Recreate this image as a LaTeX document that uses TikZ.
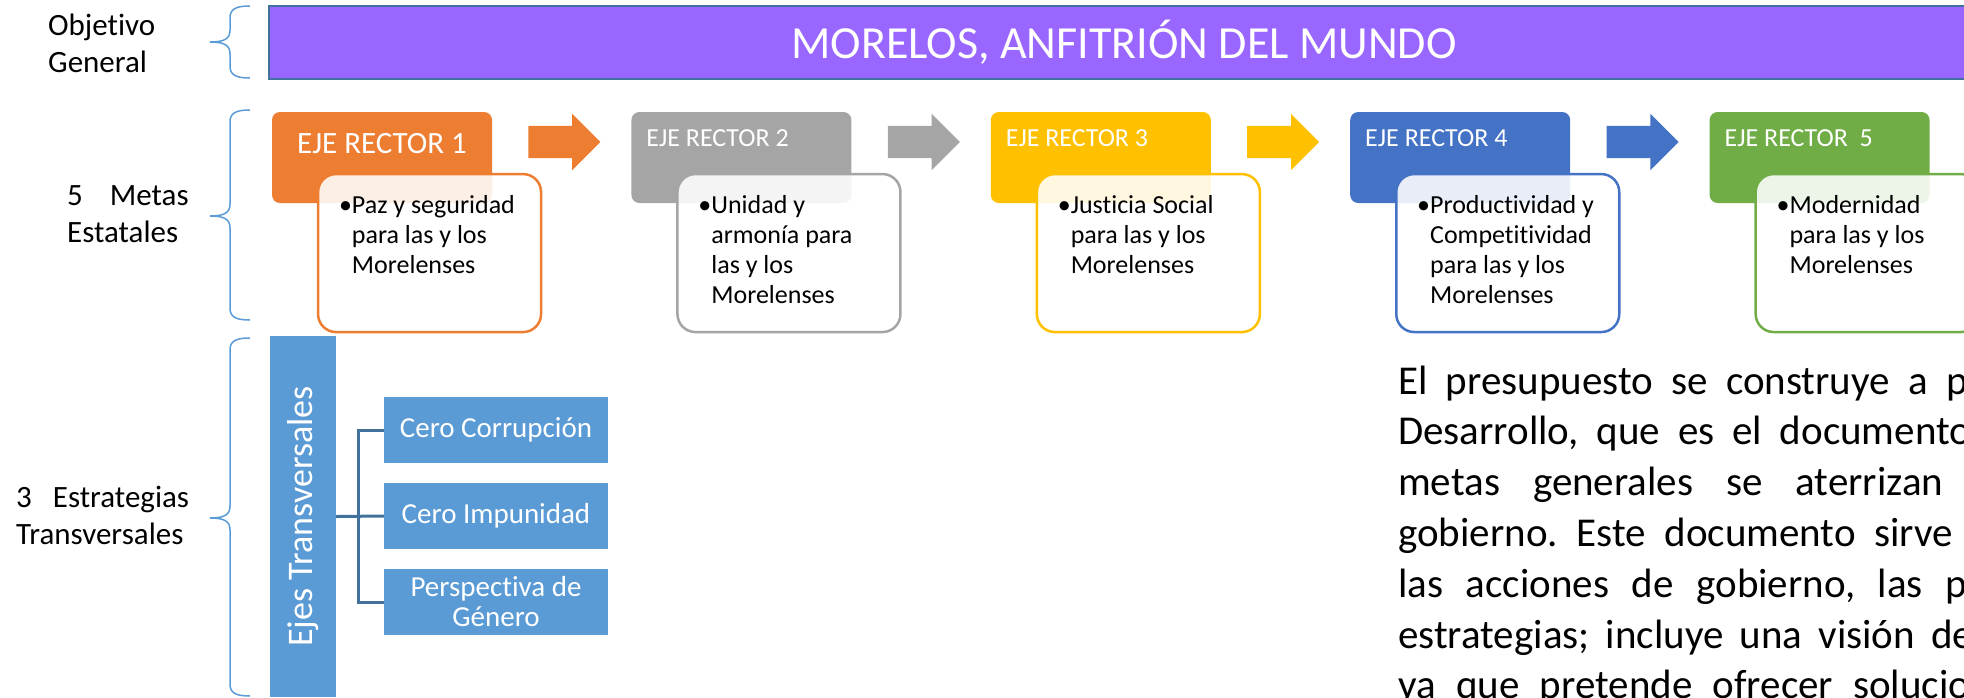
\documentclass[tikz,border=0pt]{standalone}
\usepackage{fontspec}
\setmainfont{Carlito}[Ligatures=NoCommon]
\usepackage{xcolor}
\usepackage{tikz}
\usetikzlibrary{positioning,shapes,calc}
\definecolor{ejeorange}{HTML}{ED7D31}
\definecolor{ejegray}{HTML}{A5A5A5}
\definecolor{ejegold}{HTML}{FFC000}
\definecolor{ejeblue}{HTML}{4472C4}
\definecolor{ejegreen}{HTML}{70AD47}
\definecolor{objpurple}{HTML}{9966FF}
\definecolor{objline}{HTML}{41719C}
\definecolor{transblue}{HTML}{5B9BD5}
\frenchspacing
\newcommand{\rows}[1]{\begin{tabular}[t]{@{}l@{}}#1\end{tabular}}
\newcommand{\meta}[1]{\textbullet\rows{#1}}
% left brace: top, tip, bottom
\newcommand{\llave}[3]{\draw[llave] (250,#1) .. controls (236,#1) and (230,#1+3) .. (230,#1+12) -- (230,#2-12) .. controls (230,#2-3) and (224,#2) .. (210,#2) .. controls (224,#2) and (230,#2+3) .. (230,#2+12) -- (230,#3-12) .. controls (230,#3-3) and (236,#3) .. (250,#3);}

\begin{document}
\begin{tikzpicture}[x=1pt,y=-1pt,
    llave/.style={draw=transblue,line width=1.5pt},
    header/.style={rectangle,rounded corners=8pt,minimum width=220pt,minimum height=91pt,inner sep=0pt},
    headtxt/.style={text=white,font=\fontsize{26}{31}\selectfont,anchor=base west,inner sep=0pt},
    metabox/.style={rectangle,rounded corners=18pt,minimum width=223pt,minimum height=158pt,fill=white,fill opacity=0.88,line width=2.5pt,inner sep=0pt},
    metatxt/.style={font=\fontsize{26}{30}\selectfont,anchor=base west,inner sep=0pt},
    flecha/.style={single arrow,single arrow head extend=12pt,minimum height=72pt,inner xsep=0pt,inner ysep=16pt,draw=none},
    rotulo/.style={font=\fontsize{31}{37}\selectfont,anchor=base west,inner sep=0pt},
    cero/.style={rectangle,fill=transblue,text=white,minimum width=224pt,minimum height=66pt,inner sep=0pt,align=center,font=\fontsize{29}{30}\selectfont},
    conn/.style={draw=objline,line width=3pt},
    parrafo/.style={font=\fontsize{41}{50}\selectfont,anchor=base west,inner sep=0pt}]
  \useasboundingbox (0,0) rectangle (1964,697);
  \clip (0,0) rectangle (1964,697);
  % left column
  \node[rotulo] (og) at (48,35) {\rows{Objetivo\\General}};
  \node[rotulo] (me) at (67,205) {\rows{5\hspace*{27pt}Metas\\Estatales}};
  \node[rotulo] (et) at (16,507) {\rows{3\hspace*{21pt}Estrategias\\Transversales}};
  \llave{6}{42}{78}
  \llave{110}{216}{320}
  \llave{338}{518}{696}
  % objetivo general
  \node[rectangle,fill=objpurple,draw=objline,line width=2.5pt,minimum width=1710pt,minimum height=73pt,
    inner sep=0pt,text height=31pt,text depth=0pt,text=white,font=\fontsize{46}{55}\selectfont] (obj) at (1124,42.5) {MORELOS, ANFITRIÓN DEL MUNDO};
  % ejes rectores
  \node[header,fill=ejeorange] (h1) at (382,157.5) {};
  \node[header,fill=ejegray,right=139pt of h1] (h2) {};
  \node[header,fill=ejegold,right=139pt of h2] (h3) {};
  \node[header,fill=ejeblue,right=139pt of h3] (h4) {};
  \node[header,fill=ejegreen,right=139pt of h4] (h5) {};
  \node[headtxt,anchor=base,font=\fontsize{31}{37}\selectfont] (h1t) at ($(h1.north)+(0,42)$) {EJE RECTOR 1};
  \node[headtxt] (h2t) at ($(h2.north west)+(15,35)$) {EJE RECTOR 2};
  \node[headtxt] (h3t) at ($(h3.north west)+(15,35)$) {EJE RECTOR 3};
  \node[headtxt] (h4t) at ($(h4.north west)+(15,35)$) {EJE RECTOR 4};
  \node[headtxt] (h5t) at ($(h5.north west)+(15,35)$) {EJE RECTOR\ \ 5};
  \node[flecha,fill=ejeorange,right=36pt of h1,yshift=15.5pt] (a1) {};
  \node[flecha,fill=ejegray,right=36pt of h2,yshift=15.5pt] (a2) {};
  \node[flecha,fill=ejegold,right=36pt of h3,yshift=15.5pt] (a3) {};
  \node[flecha,fill=ejeblue,right=36pt of h4,yshift=15.5pt] (a4) {};
  \node[metabox,draw=ejeorange,below right=61pt and 45pt of h1.north west] (b1) {};
  \node[metabox,draw=ejegray,below right=61pt and 45pt of h2.north west] (b2) {};
  \node[metabox,draw=ejegold,below right=61pt and 45pt of h3.north west] (b3) {};
  \node[metabox,draw=ejeblue,below right=61pt and 45pt of h4.north west] (b4) {};
  \node[metabox,draw=ejegreen,below right=61pt and 45pt of h5.north west] (b5) {};
  \node[metatxt] (t1) at ($(b1.north west)+(22,41)$) {\meta{Paz y seguridad\\para las y los\\Morelenses}};
  \node[metatxt] (t2) at ($(b2.north west)+(22,41)$) {\meta{Unidad y\\armonía para\\las y los\\Morelenses}};
  \node[metatxt] (t3) at ($(b3.north west)+(22,41)$) {\meta{Justicia Social\\para las y los\\Morelenses}};
  \node[metatxt] (t4) at ($(b4.north west)+(22,41)$) {\meta{Productividad y\\Competitividad\\para las y los\\Morelenses}};
  \node[metatxt] (t5) at ($(b5.north west)+(22,41)$) {\meta{Modernidad\\para las y los\\Morelenses}};
  % ejes transversales
  \node[rectangle,fill=transblue,minimum width=361pt,minimum height=66pt,inner sep=0pt,rotate=90,
    text=white,font=\fontsize{36}{40}\selectfont] (ejes) at (303,516.5) {Ejes Transversales};
  \node[cero] (c1) at (496,430) {Cero Corrupción};
  \node[cero] (c2) at (496,516) {Cero Impunidad};
  \node[cero] (c3) at (496,602) {Perspectiva de\\Género};
  \draw[conn] (ejes.south) -- (c2.west);
  \draw[conn] (c1.west) -- ++(-25,0) |- (c3.west);
  % texto
  \node[parrafo] (p1) at (1398,394) {\makebox[569.5pt][s]{El presupuesto se construye a p}};
  \node[parrafo] (p2) at (1398,444.8) {\makebox[573pt][s]{Desarrollo, que es el documento}};
  \node[parrafo] (p3) at (1398,495.6) {\makebox[545pt][s]{metas generales se aterrizan}};
  \node[parrafo] (p4) at (1398,546.4) {\makebox[555pt][s]{gobierno. Este documento sirve}};
  \node[parrafo] (p5) at (1398,597.2) {\makebox[569pt][s]{las acciones de gobierno, las p}};
  \node[parrafo] (p6) at (1398,648) {\makebox[575pt][s]{estrategias; incluye una visión de}};
  \node[parrafo] (p7) at (1398,698.8) {\makebox[572pt][s]{ya que pretende ofrecer solucio}};
\end{tikzpicture}
\end{document}
